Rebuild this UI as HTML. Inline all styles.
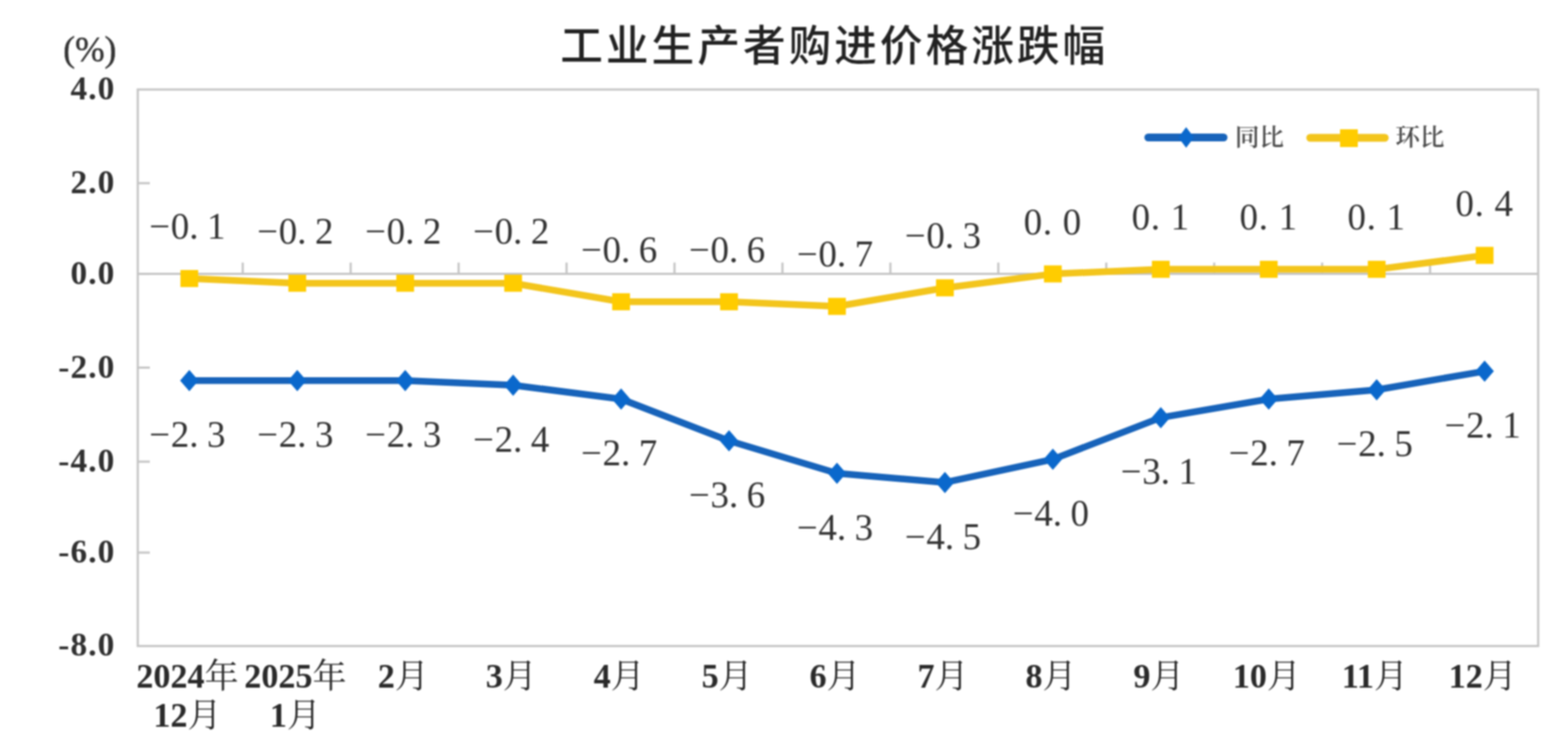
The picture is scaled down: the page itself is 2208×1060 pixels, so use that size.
<!DOCTYPE html>
<html><head><meta charset="utf-8"><title>工业生产者购进价格涨跌幅</title>
<style>
html,body{margin:0;padding:0;background:#fff;}
body{width:2208px;height:1060px;overflow:hidden;}
svg{display:block;filter:blur(0.8px);}
.ax{font-family:"Liberation Serif","Noto Serif CJK SC",serif;font-weight:bold;font-size:47px;letter-spacing:1.5px;fill:#303030;}
.pct{font-family:"Liberation Serif","Noto Serif CJK SC",serif;font-size:50px;fill:#333;stroke:#333;stroke-width:0.6px;}
.dl{font-family:"Liberation Serif","Noto Serif CJK SC",serif;font-size:52px;fill:#333333;}
.xl{font-family:"Liberation Serif","Noto Serif CJK SC",serif;font-size:48px;fill:#2a2a2a;}
.xl tspan.d{font-weight:bold;}
.lg{font-family:"Noto Serif CJK SC",serif;font-weight:600;font-size:34.5px;fill:#4a4a4a;}
.ti{font-family:"Noto Sans CJK SC",sans-serif;font-weight:500;font-size:60px;letter-spacing:4.3px;fill:#222222;}
</style></head>
<body><svg width="2208" height="1060" viewBox="0 0 2208 1060">
<rect width="2208" height="1060" fill="#fff"/>
<rect x="194" y="126" width="1972" height="783.4" fill="none" stroke="#C4C4C4" stroke-width="3"/>
<line x1="194" y1="257.9" x2="211" y2="257.9" stroke="#C4C4C4" stroke-width="3"/>
<line x1="194" y1="385.6" x2="211" y2="385.6" stroke="#C4C4C4" stroke-width="3"/>
<line x1="194" y1="517.5" x2="211" y2="517.5" stroke="#C4C4C4" stroke-width="3"/>
<line x1="194" y1="649.9" x2="211" y2="649.9" stroke="#C4C4C4" stroke-width="3"/>
<line x1="194" y1="777.9" x2="211" y2="777.9" stroke="#C4C4C4" stroke-width="3"/>
<line x1="194" y1="385.6" x2="2166" y2="385.6" stroke="#C4C4C4" stroke-width="3"/>
<line x1="341.8" y1="369.6" x2="341.8" y2="385.6" stroke="#C4C4C4" stroke-width="3"/>
<line x1="493.8" y1="369.6" x2="493.8" y2="385.6" stroke="#C4C4C4" stroke-width="3"/>
<line x1="645.8" y1="369.6" x2="645.8" y2="385.6" stroke="#C4C4C4" stroke-width="3"/>
<line x1="797.8" y1="369.6" x2="797.8" y2="385.6" stroke="#C4C4C4" stroke-width="3"/>
<line x1="949.8" y1="369.6" x2="949.8" y2="385.6" stroke="#C4C4C4" stroke-width="3"/>
<line x1="1101.8" y1="369.6" x2="1101.8" y2="385.6" stroke="#C4C4C4" stroke-width="3"/>
<line x1="1253.8" y1="369.6" x2="1253.8" y2="385.6" stroke="#C4C4C4" stroke-width="3"/>
<line x1="1405.8" y1="369.6" x2="1405.8" y2="385.6" stroke="#C4C4C4" stroke-width="3"/>
<line x1="1557.8" y1="369.6" x2="1557.8" y2="385.6" stroke="#C4C4C4" stroke-width="3"/>
<line x1="1709.8" y1="369.6" x2="1709.8" y2="385.6" stroke="#C4C4C4" stroke-width="3"/>
<line x1="1861.8" y1="369.6" x2="1861.8" y2="385.6" stroke="#C4C4C4" stroke-width="3"/>
<line x1="2013.8" y1="369.6" x2="2013.8" y2="385.6" stroke="#C4C4C4" stroke-width="3"/>
<text x="162.5" y="140.0" text-anchor="end" class="ax">4.0</text>
<text x="162.5" y="271.9" text-anchor="end" class="ax">2.0</text>
<text x="162.5" y="399.6" text-anchor="end" class="ax">0.0</text>
<text x="162.5" y="531.5" text-anchor="end" class="ax">-2.0</text>
<text x="162.5" y="663.9" text-anchor="end" class="ax">-4.0</text>
<text x="162.5" y="791.9" text-anchor="end" class="ax">-6.0</text>
<text x="162.5" y="923.4" text-anchor="end" class="ax">-8.0</text>
<text x="164" y="86" text-anchor="end" class="pct">(%)</text>
<polyline points="266.6,392.1 418.6,398.7 570.6,398.7 722.6,398.7 874.6,424.8 1026.6,424.8 1178.6,431.3 1330.6,405.2 1482.6,385.6 1634.6,379.1 1786.6,379.1 1938.6,379.1 2090.6,359.5" fill="none" stroke="#F3C51C" stroke-width="9.5" stroke-linejoin="round"/>
<polyline points="266.6,535.7 418.6,535.7 570.6,535.7 722.6,542.2 874.6,561.8 1026.6,620.5 1178.6,666.2 1330.6,679.2 1482.6,646.6 1634.6,587.9 1786.6,561.8 1938.6,548.7 2090.6,522.6" fill="none" stroke="#1763BA" stroke-width="9.5" stroke-linejoin="round"/>
<rect x="254.1" y="380.1" width="25" height="24" fill="#FFCC00"/>
<rect x="406.1" y="386.7" width="25" height="24" fill="#FFCC00"/>
<rect x="558.1" y="386.7" width="25" height="24" fill="#FFCC00"/>
<rect x="710.1" y="386.7" width="25" height="24" fill="#FFCC00"/>
<rect x="862.1" y="412.8" width="25" height="24" fill="#FFCC00"/>
<rect x="1014.1" y="412.8" width="25" height="24" fill="#FFCC00"/>
<rect x="1166.1" y="419.3" width="25" height="24" fill="#FFCC00"/>
<rect x="1318.1" y="393.2" width="25" height="24" fill="#FFCC00"/>
<rect x="1470.1" y="373.6" width="25" height="24" fill="#FFCC00"/>
<rect x="1622.1" y="367.1" width="25" height="24" fill="#FFCC00"/>
<rect x="1774.1" y="367.1" width="25" height="24" fill="#FFCC00"/>
<rect x="1926.1" y="367.1" width="25" height="24" fill="#FFCC00"/>
<rect x="2078.1" y="347.5" width="25" height="24" fill="#FFCC00"/>
<path d="M266.6 520.7L279.6 535.7L266.6 550.7L253.6 535.7Z" fill="#0A68CC"/>
<path d="M418.6 520.7L431.6 535.7L418.6 550.7L405.6 535.7Z" fill="#0A68CC"/>
<path d="M570.6 520.7L583.6 535.7L570.6 550.7L557.6 535.7Z" fill="#0A68CC"/>
<path d="M722.6 527.2L735.6 542.2L722.6 557.2L709.6 542.2Z" fill="#0A68CC"/>
<path d="M874.6 546.8L887.6 561.8L874.6 576.8L861.6 561.8Z" fill="#0A68CC"/>
<path d="M1026.6 605.5L1039.6 620.5L1026.6 635.5L1013.6 620.5Z" fill="#0A68CC"/>
<path d="M1178.6 651.2L1191.6 666.2L1178.6 681.2L1165.6 666.2Z" fill="#0A68CC"/>
<path d="M1330.6 664.2L1343.6 679.2L1330.6 694.2L1317.6 679.2Z" fill="#0A68CC"/>
<path d="M1482.6 631.6L1495.6 646.6L1482.6 661.6L1469.6 646.6Z" fill="#0A68CC"/>
<path d="M1634.6 572.9L1647.6 587.9L1634.6 602.9L1621.6 587.9Z" fill="#0A68CC"/>
<path d="M1786.6 546.8L1799.6 561.8L1786.6 576.8L1773.6 561.8Z" fill="#0A68CC"/>
<path d="M1938.6 533.7L1951.6 548.7L1938.6 563.7L1925.6 548.7Z" fill="#0A68CC"/>
<path d="M2090.6 507.6L2103.6 522.6L2090.6 537.6L2077.6 522.6Z" fill="#0A68CC"/>
<text x="224.6 253.6 273.1 304.6" y="336.1" text-anchor="middle" class="dl">−0.1</text>
<text x="376.6 405.6 425.1 456.6" y="342.7" text-anchor="middle" class="dl">−0.2</text>
<text x="528.6 557.6 577.1 608.6" y="342.7" text-anchor="middle" class="dl">−0.2</text>
<text x="680.6 709.6 729.1 760.6" y="342.7" text-anchor="middle" class="dl">−0.2</text>
<text x="832.6 861.6 881.1 912.6" y="368.8" text-anchor="middle" class="dl">−0.6</text>
<text x="984.6 1013.6 1033.1 1064.6" y="368.8" text-anchor="middle" class="dl">−0.6</text>
<text x="1136.6 1165.6 1185.1 1216.6" y="375.3" text-anchor="middle" class="dl">−0.7</text>
<text x="1288.6 1317.6 1337.1 1368.6" y="349.2" text-anchor="middle" class="dl">−0.3</text>
<text x="1454.6 1475.1 1509.6" y="329.6" text-anchor="middle" class="dl">0.0</text>
<text x="1606.6 1627.1 1661.6" y="323.1" text-anchor="middle" class="dl">0.1</text>
<text x="1758.6 1779.1 1813.6" y="323.1" text-anchor="middle" class="dl">0.1</text>
<text x="1910.6 1931.1 1965.6" y="323.1" text-anchor="middle" class="dl">0.1</text>
<text x="2062.6 2083.1 2117.6" y="303.5" text-anchor="middle" class="dl">0.4</text>
<text x="224.6 253.6 273.1 304.6" y="629.2" text-anchor="middle" class="dl">−2.3</text>
<text x="376.6 405.6 425.1 456.6" y="629.2" text-anchor="middle" class="dl">−2.3</text>
<text x="528.6 557.6 577.1 608.6" y="629.2" text-anchor="middle" class="dl">−2.3</text>
<text x="680.6 709.6 729.1 760.6" y="635.7" text-anchor="middle" class="dl">−2.4</text>
<text x="832.6 861.6 881.1 912.6" y="655.3" text-anchor="middle" class="dl">−2.7</text>
<text x="984.6 1013.6 1033.1 1064.6" y="714.0" text-anchor="middle" class="dl">−3.6</text>
<text x="1136.6 1165.6 1185.1 1216.6" y="759.7" text-anchor="middle" class="dl">−4.3</text>
<text x="1288.6 1317.6 1337.1 1368.6" y="772.7" text-anchor="middle" class="dl">−4.5</text>
<text x="1440.6 1469.6 1489.1 1520.6" y="740.1" text-anchor="middle" class="dl">−4.0</text>
<text x="1592.6 1621.6 1641.1 1672.6" y="681.4" text-anchor="middle" class="dl">−3.1</text>
<text x="1744.6 1773.6 1793.1 1824.6" y="655.3" text-anchor="middle" class="dl">−2.7</text>
<text x="1896.6 1925.6 1945.1 1976.6" y="642.2" text-anchor="middle" class="dl">−2.5</text>
<text x="2048.6 2077.6 2097.1 2128.6" y="616.1" text-anchor="middle" class="dl">−2.1</text>
<text x="264.1" y="968.0" text-anchor="middle" class="xl"><tspan class="d">2024</tspan>年</text>
<text x="264.1" y="1023.3" text-anchor="middle" class="xl"><tspan class="d">12</tspan>月</text>
<text x="416.1" y="968.0" text-anchor="middle" class="xl"><tspan class="d">2025</tspan>年</text>
<text x="416.1" y="1023.3" text-anchor="middle" class="xl"><tspan class="d">1</tspan>月</text>
<text x="568.1" y="968.0" text-anchor="middle" class="xl"><tspan class="d">2</tspan>月</text>
<text x="720.1" y="968.0" text-anchor="middle" class="xl"><tspan class="d">3</tspan>月</text>
<text x="872.1" y="968.0" text-anchor="middle" class="xl"><tspan class="d">4</tspan>月</text>
<text x="1024.1" y="968.0" text-anchor="middle" class="xl"><tspan class="d">5</tspan>月</text>
<text x="1176.1" y="968.0" text-anchor="middle" class="xl"><tspan class="d">6</tspan>月</text>
<text x="1328.1" y="968.0" text-anchor="middle" class="xl"><tspan class="d">7</tspan>月</text>
<text x="1480.1" y="968.0" text-anchor="middle" class="xl"><tspan class="d">8</tspan>月</text>
<text x="1632.1" y="968.0" text-anchor="middle" class="xl"><tspan class="d">9</tspan>月</text>
<text x="1784.1" y="968.0" text-anchor="middle" class="xl"><tspan class="d">10</tspan>月</text>
<text x="1936.1" y="968.0" text-anchor="middle" class="xl"><tspan class="d">11</tspan>月</text>
<text x="2088.1" y="968.0" text-anchor="middle" class="xl"><tspan class="d">12</tspan>月</text>
<line x1="1617" y1="193.5" x2="1723" y2="193.5" stroke="#1763BA" stroke-width="11" stroke-linecap="round"/>
<path d="M1670.3 179L1681.3 193.5L1670.3 208L1659.3 193.5Z" fill="#0A68CC"/>
<text x="1739" y="204.5" class="lg">同比</text>
<line x1="1845" y1="194" x2="1950" y2="194" stroke="#F3C51C" stroke-width="11" stroke-linecap="round"/>
<rect x="1887" y="182" width="25" height="25" fill="#FFCC00"/>
<text x="1965" y="204.5" class="lg">环比</text>
<text x="789" y="86" class="ti">工业生产者购进价格涨跌幅</text>
</svg></body></html>
